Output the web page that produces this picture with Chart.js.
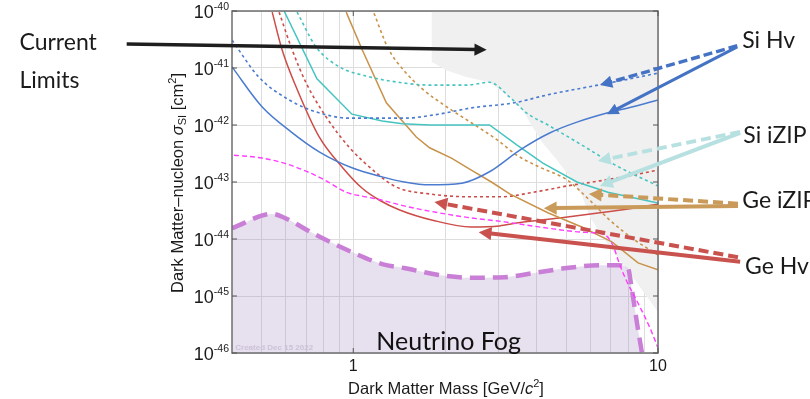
<!DOCTYPE html>
<html>
<head>
<meta charset="utf-8">
<title>Dark matter sensitivity</title>
<script src="https://cdn.jsdelivr.net/npm/chart.js@4.4.0/dist/chart.umd.min.js"></script>
<style>
  html, body { margin: 0; padding: 0; background: #fff; }
  canvas { display: block; }
</style>
</head>
<body>
<canvas id="chart" width="810" height="399"></canvas>
<script>
// ---------------------------------------------------------------------------
// Data: mass in GeV/c^2, cross section given as log10(sigma / cm^2)
// ---------------------------------------------------------------------------

const siHvMass = [0.4, 0.50, 0.625, 0.773, 0.99, 1.245, 1.47, 1.78, 2.27, 2.8, 3.52, 4.41, 5.42, 6.8, 8.27, 10];
const siHvLog = [-40.98, -41.67, -42.12, -42.47, -42.75, -42.91, -43.0, -43.05, -43.02, -42.82, -42.44, -42.14, -41.95, -41.79, -41.68, -41.56];

const siHvDotMass = [0.4, 0.49, 0.616, 0.755, 0.97, 1.146, 1.47, 1.905, 2.44, 3.38, 4.35, 6.35, 8.27, 10];
const siHvDotLog = [-40.51, -41.16, -41.56, -41.77, -41.88, -41.88, -41.88, -41.81, -41.70, -41.61, -41.47, -41.30, -41.18, -41.09];

const siIzipMass = [0.593, 0.76, 0.99, 1.245, 1.45, 1.78, 2.80, 3.44, 4.19, 5.42, 6.85, 10];
const siIzipLog = [-40.0, -41.19, -41.81, -41.93, -41.98, -42.0, -42.0, -42.35, -42.67, -43.0, -43.18, -43.37];

const siIzipDotMass = [0.654, 0.755, 0.90, 1.10, 1.45, 1.78, 2.35, 2.80, 3.26, 3.71, 4.35, 5.62, 7.22, 10];
const siIzipDotLog = [-40.02, -40.63, -40.98, -41.14, -41.26, -41.30, -41.30, -41.25, -41.51, -41.79, -42.0, -42.35, -42.70, -43.07];

const geIzipMass = [0.948, 1.07, 1.284, 1.61, 1.78, 2.10, 2.44, 2.84, 3.26, 4.35, 5.62, 7.06, 8.6, 10];
const geIzipLog = [-40.02, -40.68, -41.61, -42.21, -42.40, -42.58, -42.79, -43.0, -43.21, -43.54, -43.79, -44.05, -44.42, -44.54];

const geIzipDotMass = [1.17, 1.30, 1.47, 1.67, 2.05, 2.44, 3.0, 3.44, 4.09, 5.02, 5.97, 6.95, 8.4, 10];
const geIzipDotLog = [-40.04, -40.65, -41.05, -41.35, -41.70, -41.96, -42.28, -42.53, -42.74, -42.96, -43.32, -43.67, -44.02, -44.28];

const geHvMass = [0.542, 0.584, 0.649, 0.773, 0.92, 1.07, 1.22, 1.42, 1.82, 2.44, 3.02, 3.44, 4.76, 6.45, 8.27, 10];
const geHvLog = [-40.02, -40.68, -41.33, -42.21, -42.74, -43.11, -43.32, -43.49, -43.67, -43.79, -43.77, -43.72, -43.63, -43.54, -43.46, -43.39];

const geHvDotMass = [0.571, 0.63, 0.70, 0.815, 0.97, 1.19, 1.385, 1.78, 2.44, 3.02, 4.09, 5.02, 6.45, 8.27, 10];
const geHvDotLog = [-40.02, -40.68, -41.26, -41.86, -42.39, -42.84, -43.09, -43.21, -43.26, -43.26, -43.16, -43.07, -42.98, -42.88, -42.79];

const magentaMass = [0.406, 0.502, 0.593, 0.70, 0.815, 0.948, 1.10, 1.245, 1.47, 1.905, 2.44, 3.14, 4.35, 5.62, 6.69, 7.11, 7.5, 7.91, 8.72, 9.41, 10];
const magentaLog = [-42.53, -42.58, -42.67, -42.81, -42.98, -43.18, -43.26, -43.32, -43.42, -43.54, -43.63, -43.70, -43.81, -43.88, -43.93, -44.11, -44.46, -44.75, -45.19, -45.56, -45.91];

const fogMass = [0.4, 0.542, 0.584, 0.755, 0.99, 1.245, 1.47, 1.905, 2.44, 3.14, 3.88, 5.02, 6.45, 7.38, 7.97, 8.21, 8.53, 8.86];
const fogLog = [-43.81, -43.56, -43.61, -43.93, -44.23, -44.44, -44.51, -44.63, -44.68, -44.67, -44.60, -44.51, -44.46, -44.46, -44.51, -44.89, -45.47, -46.0];

const limitMass = [1.806, 1.806, 2.02, 2.35, 2.80, 3.26, 3.60, 3.88, 4.19, 4.65, 5.13, 5.62, 5.97, 6.69, 8.27, 10];
const limitLog = [-40.0, -40.89, -41.04, -41.16, -41.25, -41.51, -41.74, -42.04, -42.32, -42.61, -42.91, -43.23, -43.61, -44.02, -44.67, -45.28];

// Axis ticks
const yTickValues = [1e-46, 1e-45, 1e-44, 1e-43, 1e-42, 1e-41, 1e-40];
const yTickBase = '10';
const yTickExponents = ['-46', '-45', '-44', '-43', '-42', '-41', '-40'];
const xGridValues = [0.5, 0.6, 0.7, 0.8, 0.9, 1, 2, 3, 4, 5, 6, 7, 8, 9, 10];
const xLabelValues = [1, 10];
const xLabelText = ['1', '10'];

// Annotations, positioned in [mass, log10 sigma]
const arrows = [
    { from: [0.1805, -40.58], to: [2.74, -40.68], color: '#1e1e1e', width: 3.5, dash: [] },
    { from: [18.2, -40.61], to: [6.45, -41.30], color: '#4472c4', width: 3.5, dash: [9, 4] },
    { from: [18.2, -40.63], to: [6.80, -41.81], color: '#4472c4', width: 3, dash: [] },
    { from: [18.6, -42.12], to: [6.35, -42.63], color: '#b7e0e1', width: 4, dash: [10, 5] },
    { from: [18.6, -42.14], to: [6.45, -43.07], color: '#b7e0e1', width: 4, dash: [] },
    { from: [18.3, -43.38], to: [5.93, -43.21], color: '#c99a5a', width: 4, dash: [10, 5] },
    { from: [18.3, -43.42], to: [4.22, -43.46], color: '#c99a5a', width: 4, dash: [] },
    { from: [18.3, -44.32], to: [1.847, -43.35], color: '#c9524f', width: 4, dash: [10, 5] },
    { from: [18.6, -44.40], to: [2.58, -43.88], color: '#c9524f', width: 4, dash: [] },
];

const notes = [
    { text: 'Current', at: [0.0803, -40.68], font: '23px Lato', color: '#1a1a1a' },
    { text: 'Limits', at: [0.0803, -41.35], font: '23px Lato', color: '#1a1a1a' },
    { text: 'Si Hv', at: [18.9, -40.65], font: '23px Lato', color: '#1a1a1a' },
    { text: 'Si iZIP', at: [19.05, -42.32], font: '23px Lato', color: '#1a1a1a' },
    { text: 'Ge iZIP', at: [18.9, -43.46], font: '23px Lato', color: '#1a1a1a' },
    { text: 'Ge Hv', at: [19.3, -44.61], font: '23px Lato', color: '#1a1a1a' },
    { text: 'Neutrino Fog', at: [1.19, -45.95], font: '25px Lato', color: '#111' },
    { text: 'Created Dec 15 2022', at: [0.41, -45.95], font: 'bold 8px "Liberation Sans"', color: '#cbc2d8' },
];

// ---------------------------------------------------------------------------
// Helpers
// ---------------------------------------------------------------------------

function pts(masses, logs) {
    return masses.map((m, i) => ({ x: m, y: Math.pow(10, logs[i]) }));
}

function curve(masses, logs, color, opts) {
    return Object.assign({
        data: pts(masses, logs),
        borderColor: color,
        borderWidth: 1.5,
        pointRadius: 0,
        fill: false,
        cubicInterpolationMode: 'monotone',
        order: 0,
    }, opts || {});
}

function runsWidth(ctx, runs) {
    let w = 0;
    runs.forEach(r => { ctx.font = r.font; w += ctx.measureText(r.text).width; });
    return w;
}

// draw a list of text runs (mixed font / raised / lowered) starting at x
function drawRunsFrom(ctx, runs, x, baseY) {
    runs.forEach(r => {
        ctx.font = r.font;
        ctx.fillText(r.text, x, baseY + (r.dy || 0));
        x += ctx.measureText(r.text).width;
    });
}

function drawRuns(ctx, runs, cx, baseY) {
    drawRunsFrom(ctx, runs, cx - runsWidth(ctx, runs) / 2, baseY);
}

function drawArrow(ctx, x1, y1, x2, y2, color, width, dash) {
    const ang = Math.atan2(y2 - y1, x2 - x1);
    const head = 8 + width * 1.2;
    const half = 3 + width * 0.9;
    const c = Math.cos(ang), s = Math.sin(ang);
    ctx.save();
    ctx.strokeStyle = color;
    ctx.fillStyle = color;
    ctx.lineWidth = width;
    ctx.setLineDash(dash);
    ctx.beginPath();
    ctx.moveTo(x1, y1);
    ctx.lineTo(x2 - c * head * 0.8, y2 - s * head * 0.8);
    ctx.stroke();
    ctx.setLineDash([]);
    ctx.beginPath();
    ctx.moveTo(x2, y2);
    ctx.lineTo(x2 - c * head - s * half, y2 - s * head + c * half);
    ctx.lineTo(x2 - c * head + s * half, y2 - s * head - c * half);
    ctx.closePath();
    ctx.fill();
    ctx.restore();
}

const FONT = '"Liberation Sans", Arial, sans-serif';

// ---------------------------------------------------------------------------
// Plugins: background, plot frame, tick labels, axis titles and annotations
// ---------------------------------------------------------------------------

const background = {
    id: 'background',
    beforeDraw(chart) {
        const ctx = chart.ctx;
        ctx.save();
        ctx.fillStyle = '#ffffff';
        ctx.fillRect(0, 0, chart.width, chart.height);
        ctx.restore();
    }
};

const frame = {
    id: 'frame',
    afterDatasetsDraw(chart) {
        const { ctx, chartArea: a, scales } = chart;
        ctx.save();
        ctx.strokeStyle = '#6e6e6e';
        ctx.lineWidth = 1.5;
        ctx.strokeRect(a.left, a.top, a.right - a.left, a.bottom - a.top);
        // inward tick marks
        ctx.lineWidth = 1;
        ctx.strokeStyle = '#555';
        ctx.beginPath();
        yTickValues.forEach(v => {
            const y = scales.y.getPixelForValue(v);
            ctx.moveTo(a.left, y); ctx.lineTo(a.left + 5, y);
            ctx.moveTo(a.right, y); ctx.lineTo(a.right - 5, y);
        });
        xLabelValues.forEach(v => {
            const x = scales.x.getPixelForValue(v);
            ctx.moveTo(x, a.bottom); ctx.lineTo(x, a.bottom - 5);
            ctx.moveTo(x, a.top); ctx.lineTo(x, a.top + 5);
        });
        ctx.stroke();

        // y tick labels as 10 with a raised exponent
        ctx.fillStyle = '#1a1a1a';
        ctx.textBaseline = 'alphabetic';
        ctx.textAlign = 'left';
        scales.y.ticks.forEach((t, i) => {
            const y = scales.y.getPixelForValue(t.value);
            const runs = [
                { text: yTickBase, font: '18px ' + FONT },
                { text: yTickExponents[i], font: '10.5px ' + FONT, dy: -7.5 },
            ];
            drawRunsFrom(ctx, runs, a.left - 3 - runsWidth(ctx, runs), y + 6.5);
        });
        ctx.restore();
    }
};

const annotate = {
    id: 'annotate',
    afterDraw(chart) {
        const { ctx, scales, chartArea: a } = chart;
        const px = m => scales.x.getPixelForValue(m);
        const py = l => scales.y.getPixelForValue(Math.pow(10, l));

        ctx.save();
        ctx.textBaseline = 'alphabetic';
        ctx.textAlign = 'left';

        notes.forEach(n => {
            ctx.font = n.font;
            ctx.fillStyle = n.color;
            ctx.fillText(n.text, px(n.at[0]), py(n.at[1]));
        });

        arrows.forEach(r => {
            drawArrow(ctx, px(r.from[0]), py(r.from[1]), px(r.to[0]), py(r.to[1]), r.color, r.width, r.dash);
        });

        // axis titles
        ctx.fillStyle = '#1a1a1a';
        const f = '16.5px ' + FONT;
        drawRuns(ctx, [
            { text: 'Dark Matter Mass [GeV/', font: f },
            { text: 'c', font: 'italic ' + f },
            { text: '2', font: '11px ' + FONT, dy: -7 },
            { text: ']', font: f },
        ], (a.left + a.right) / 2 + 1, 394);

        ctx.translate(183, (a.top + a.bottom) / 2 + 1);
        ctx.rotate(-Math.PI / 2);
        drawRuns(ctx, [
            { text: 'Dark Matter\u2013nucleon ', font: f },
            { text: '\u03c3', font: 'italic ' + f },
            { text: 'SI', font: '11px ' + FONT, dy: 3 },
            { text: ' [cm', font: f },
            { text: '2', font: '11px ' + FONT, dy: -7 },
            { text: ']', font: f },
        ], 0, 0);
        ctx.restore();
    }
};

// ---------------------------------------------------------------------------
// Chart
// ---------------------------------------------------------------------------

const dotted = [3, 3];

new Chart(document.getElementById('chart'), {
    type: 'line',
    data: {
        datasets: [
            // current limits (grey region, filled to the top)
            curve(limitMass, limitLog, 'rgba(0,0,0,0)', {
                borderWidth: 0, fill: 'end', backgroundColor: '#f0f0f0',
                cubicInterpolationMode: 'default', tension: 0, order: 10,
            }),
            // neutrino fog
            curve(fogMass, fogLog, '#c97fd6', {
                borderWidth: 4.5, borderDash: [15, 8], fill: 'start',
                backgroundColor: 'rgba(159,131,191,0.25)', order: 9,
            }),
            curve(magentaMass, magentaLog, '#ff3cff', { borderDash: [5, 3], borderWidth: 1.4 }),
            curve(siHvDotMass, siHvDotLog, '#4a7bd0', { borderDash: dotted, borderWidth: 1.6 }),
            curve(siHvMass, siHvLog, '#4a7bd0'),
            curve(siIzipDotMass, siIzipDotLog, '#45c4c0', { borderDash: dotted, borderWidth: 1.6 }),
            curve(siIzipMass, siIzipLog, '#45c4c0', { cubicInterpolationMode: 'default', tension: 0 }),
            curve(geIzipDotMass, geIzipDotLog, '#c8924a', { borderDash: dotted, borderWidth: 1.6 }),
            curve(geIzipMass, geIzipLog, '#c8924a', { cubicInterpolationMode: 'default', tension: 0 }),
            curve(geHvDotMass, geHvDotLog, '#cc4c48', { borderDash: dotted, borderWidth: 1.6 }),
            curve(geHvMass, geHvLog, '#cc4c48'),
        ]
    },
    options: {
        responsive: false,
        animation: false,
        events: [],
        layout: { padding: { left: 0, right: 152, top: 11, bottom: 0 } },
        plugins: { legend: { display: false }, tooltip: { enabled: false } },
        scales: {
            x: {
                type: 'logarithmic',
                min: 0.4,
                max: 10,
                afterBuildTicks: scale => { scale.ticks = xGridValues.map(v => ({ value: v })); },
                afterFit: scale => { scale.height = 46; },
                ticks: {
                    autoSkip: false,
                    maxRotation: 0,
                    padding: 4,
                    color: '#1a1a1a',
                    font: { family: FONT, size: 16 },
                    callback: v => {
                        const i = xLabelValues.indexOf(v);
                        return i >= 0 ? xLabelText[i] : '';
                    },
                },
                grid: { color: '#dddddd', lineWidth: 1, drawTicks: false },
                border: { display: false },
            },
            y: {
                type: 'logarithmic',
                min: 1e-46,
                max: 1e-40,
                afterBuildTicks: scale => { scale.ticks = yTickValues.map(v => ({ value: v })); },
                afterFit: scale => { scale.width = 232; },
                ticks: { display: false },
                grid: { color: '#dddddd', lineWidth: 1, drawTicks: false },
                border: { display: false },
            }
        }
    },
    plugins: [background, frame, annotate]
});
</script>
</body>
</html>
